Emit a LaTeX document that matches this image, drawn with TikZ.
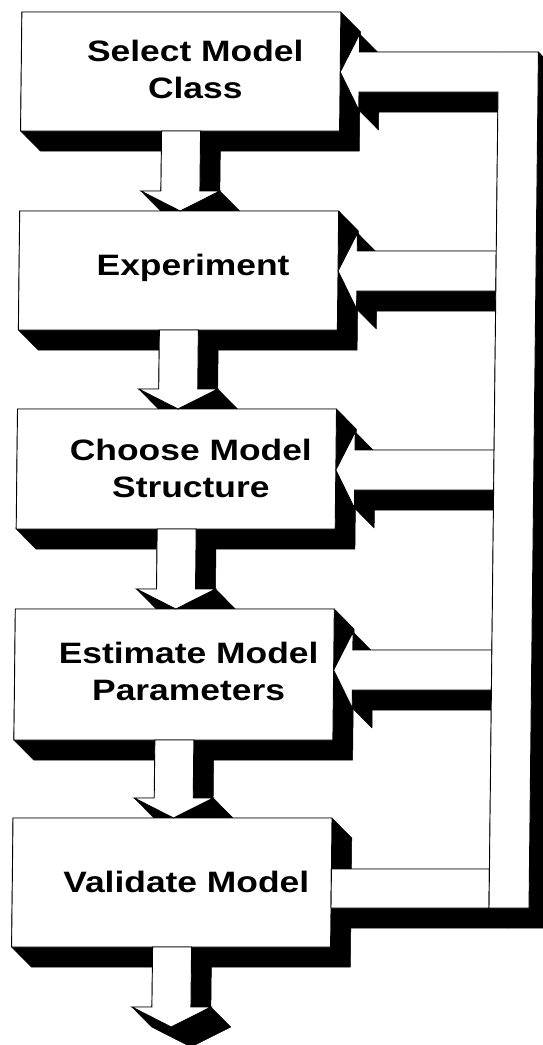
\documentclass[tikz,border=0pt]{standalone}
\usepackage{fontspec}
\newfontfamily\lblfont[FakeStretch=1.2]{Liberation Sans}

% extruded (3-D) solids: every face is pushed 20 units right and down
% shadow of a rectangle x1 y1 x2 y2
\newcommand\slabshadow[4]{%
  \fill[solid3d] (#1,#2) -- (#3,#2) -- (#3+20,#2+20) -- (#3+20,#4+20)
    -- (#1+20,#4+20) -- (#1,#4) -- cycle;}
% box: top, bottom
\newcommand\boxshadow[2]{\slabshadow{22}{#1}{341}{#2}}
\newcommand\boxface[2]{\draw[face] (22,#1) rectangle (341,#2);}
% downward block arrow: start y, tip y
\newcommand\dnshadow[2]{%
  \slabshadow{163}{#1}{202}{#2-20}
  \fill[solid3d] (143,#2-20) -- (222,#2-20) -- (242,#2) -- (202.5,#2+20)
    -- (163,#2) -- cycle;}
\newcommand\dnface[2]{%
  \draw[face] (163,#1) -- (202,#1) -- (202,#2-20) -- (222,#2-20) -- (182.5,#2)
    -- (143,#2-20) -- (163,#2-20) -- cycle;}
% leftward block arrow into a box, centre line y
\newcommand\inshadow[1]{%
  \slabshadow{360}{#1-20}{499}{#1+20}
  \fill[solid3d] (341,#1) -- (360,#1-38) -- (380,#1-18) -- (380,#1+58)
    -- (360,#1+38) -- cycle;}
\newcommand\inface[1]{%
  \draw[face] (341,#1) -- (360,#1-38) -- (360,#1-20) -- (499,#1-20)
    -- (499,#1+20) -- (360,#1+20) -- (360,#1+38) -- cycle;}

\begin{document}
\begin{tikzpicture}[x=1pt,y=-1pt,
  solid3d/.style={fill=black,draw=black,line width=0.5pt,line join=round},
  face/.style={fill=white,draw=black,line width=0.9pt,line join=miter},
  boxtext/.style={font=\lblfont\bfseries\fontsize{29.5}{37}\selectfont,
    align=center,inner sep=0pt}]
\useasboundingbox (0,0) rectangle (543,1045);
\clip (0,0) rectangle (543,1045);
\begin{scope}[xslant=0.011]
  % ---------- extruded sides (all black, behind the faces) ----------
  \boxshadow{12}{131}
  \boxshadow{211}{330}
  \boxshadow{409}{529}
  \boxshadow{609}{740}
  \boxshadow{818}{947}
  \dnshadow{131}{211}
  \dnshadow{330}{409}
  \dnshadow{529}{609}
  \dnshadow{740}{818}
  \dnshadow{947}{1027}
  \inshadow{72}
  \inshadow{271}
  \inshadow{470}
  \inshadow{670}
  \slabshadow{499}{52}{539}{908}
  \slabshadow{341}{869}{499}{908}
  % ---------- front faces ----------
  \boxface{12}{131}
  \boxface{211}{330}
  \boxface{409}{529}
  \boxface{609}{740}
  \boxface{818}{947}
  \dnface{131}{211}
  \dnface{330}{409}
  \dnface{529}{609}
  \dnface{740}{818}
  \dnface{947}{1027}
  \inface{271}
  \inface{470}
  \inface{670}
  % return path out of the validation step
  \draw[face] (341,869) rectangle (499,908);
  % riser and the top arrow back into the first step
  \draw[face] (341,72) -- (360,34) -- (360,52) -- (539,52) -- (539,908)
    -- (499,908) -- (499,92) -- (360,92) -- (360,110) -- cycle;
  % ---------- step labels ----------
  \node[boxtext] (sel) at (196,69.5) {Select Model\\Class};
  \node[boxtext] (exp) at (196,268) {Experiment};
  \node[boxtext] (cho) at (196,468) {Choose Model\\Structure};
  \node[boxtext] (est) at (196,671) {Estimate Model\\Parameters};
  \node[boxtext] (val) at (196,882) {Validate Model};
\end{scope}
\end{tikzpicture}
\end{document}
